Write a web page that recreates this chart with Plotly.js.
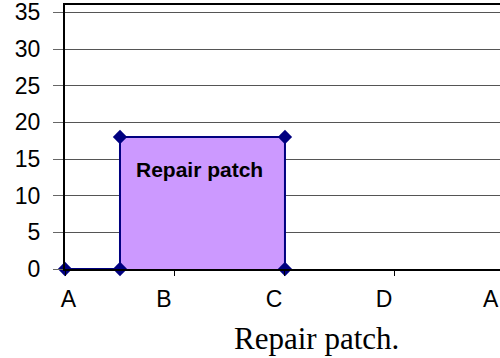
<!DOCTYPE html>
<html>
<head>
<meta charset="utf-8">
<script src="https://cdn.plot.ly/plotly-3.0.1.min.js"></script>
<style>
  html, body { margin: 0; padding: 0; background: #fff; overflow: hidden; }
  #plot-area { width: 500px; height: 358px; }
</style>
</head>
<body>
<div id="plot-area"></div>
<script>
// category labels along the bottom (Excel puts them a little left of the ticks)
const categories = ["A", "B", "C", "D", "A"];
const labelPos = [0.03, 0.9, 1.9, 2.9, 3.87];

// outline of the repair patch
const patchX = [0, 0.5, 0.5, 2, 2];
const patchY = [0, 0, 18, 18, 0];

const yTicks = [0, 5, 10, 15, 20, 25, 30, 35];

function plot_patch() {
  let trace = {
    x: patchX,
    y: patchY,
    mode: "lines+markers",
    type: "scatter",
    fill: "toself",
    fillcolor: "#CC99FF",
    line: { color: "#000080", width: 2 },
    marker: { symbol: "diamond", size: 11, color: "#000080" },
    cliponaxis: false,
    hoverinfo: "skip",
  };

  let layout = {
    width: 500,
    height: 358,
    margin: { l: 65, r: 0, t: 5, b: 89 },
    paper_bgcolor: "#fff",
    plot_bgcolor: "#fff",
    showlegend: false,
    font: { family: "Arial, 'Liberation Sans', sans-serif", color: "#000" },
    xaxis: {
      range: [0, 3.955],
      tickmode: "array",
      tickvals: labelPos,
      ticktext: categories,
      ticks: "",
      showgrid: false,
      zeroline: false,
      showline: true,
      mirror: true,
      linecolor: "#000",
      linewidth: 2,
      tickfont: { size: 23 },
      ticklabelstandoff: 8,
      minor: { tick0: 0, dtick: 1, ticks: "outside", ticklen: 5, tickcolor: "#000", tickwidth: 1, showgrid: false },
      fixedrange: true,
    },
    yaxis: {
      range: [0, 36],
      tickmode: "linear",
      tick0: 0,
      dtick: 5,
      ticks: "outside",
      ticklen: 10,
      tickcolor: "#666",
      tickwidth: 1,
      showgrid: true,
      gridcolor: "#555",
      gridwidth: 1,
      zeroline: false,
      showline: true,
      linecolor: "#000",
      linewidth: 2,
      tickfont: { size: 23 },
      ticklabelstandoff: 8,
      ticklabeloverflow: "allow",
      fixedrange: true,
    },
    annotations: [
      {
        text: "<b>Repair patch</b>",
        x: 1.227, y: 13.6,
        xref: "x", yref: "y",
        showarrow: false,
        font: { size: 21, color: "#000" },
      },
      {
        text: "Repair patch.",
        x: 0.579, y: -0.262,
        xref: "paper", yref: "paper",
        xanchor: "center", yanchor: "middle",
        showarrow: false,
        font: { family: "'Liberation Serif', 'Times New Roman', serif", size: 31, color: "#000" },
      },
    ],
  };

  Plotly.newPlot("plot-area", [trace], layout, { staticPlot: true });
}

plot_patch();
</script>
</body>
</html>
